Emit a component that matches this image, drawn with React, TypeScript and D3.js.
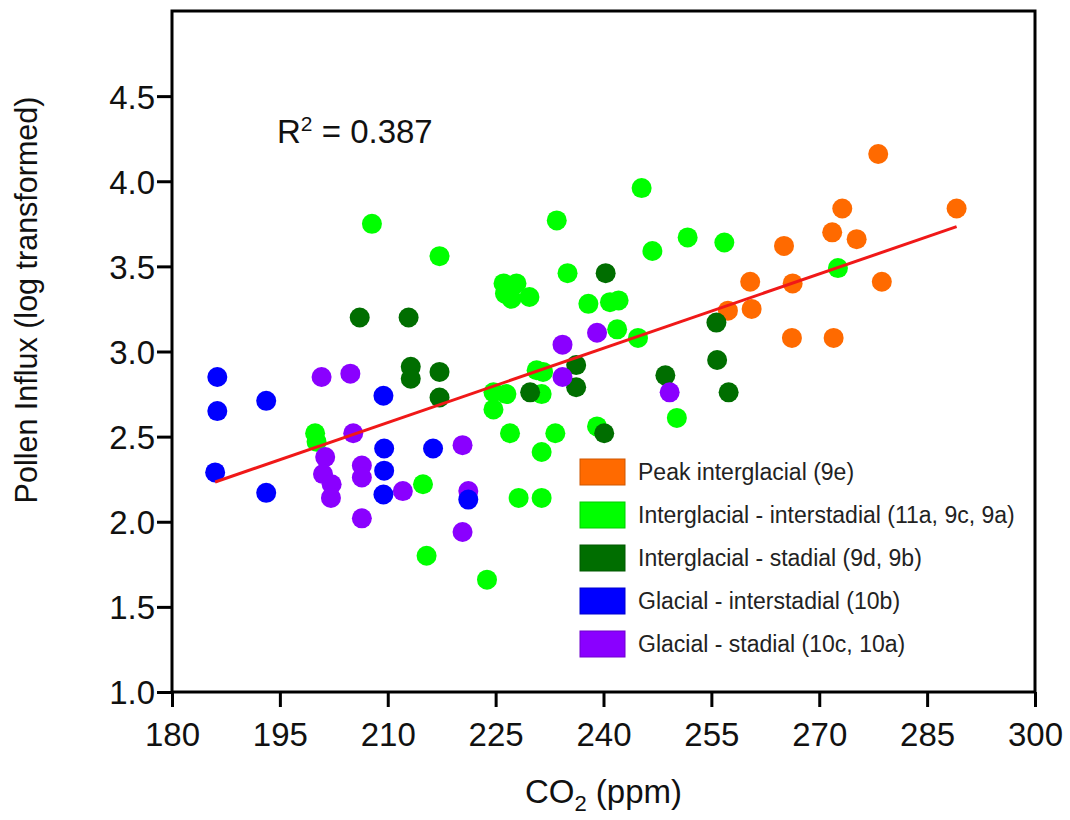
import React, { useEffect, useRef } from 'react';
import * as d3 from 'd3';

// Tick values
const xTicks = [180, 195, 210, 225, 240, 255, 270, 285, 300];
const yTicks = [1.0, 1.5, 2.0, 2.5, 3.0, 3.5, 4.0, 4.5];

// Series: [CO2 (ppm), Pollen influx (log transformed)]
const peakInterglacial: [number, number][] = [
  [278.2, 4.16], [289.1, 3.84], [273.2, 3.84], [271.8, 3.70], [275.2, 3.66],
  [265.1, 3.62], [260.4, 3.41], [266.3, 3.40], [278.7, 3.41], [257.3, 3.24],
  [260.6, 3.25], [266.2, 3.08], [272.0, 3.08],
];

const interglacialInterstadial: [number, number][] = [
  [245.3, 3.96], [233.5, 3.77], [246.8, 3.59], [217.2, 3.56], [207.8, 3.75],
  [226.1, 3.40], [227.9, 3.40], [226.3, 3.34], [227.2, 3.31], [229.7, 3.32],
  [235.0, 3.46], [237.9, 3.28], [240.9, 3.29], [242.1, 3.30], [241.9, 3.13],
  [244.8, 3.08], [230.7, 2.89], [231.6, 2.88], [224.7, 2.76], [226.5, 2.75],
  [224.7, 2.66], [231.4, 2.75], [227.0, 2.52], [233.3, 2.52], [231.4, 2.41],
  [239.1, 2.56], [214.9, 2.22], [228.2, 2.14], [231.4, 2.14], [215.4, 1.80],
  [223.8, 1.66], [199.9, 2.52], [200.1, 2.47], [251.7, 3.67], [256.8, 3.64],
  [272.6, 3.49], [250.2, 2.61],
];

const interglacialStadial: [number, number][] = [
  [206.1, 3.20], [212.9, 3.20], [213.2, 2.91], [213.2, 2.84], [217.2, 2.88],
  [217.2, 2.73], [240.3, 3.46], [229.8, 2.76], [236.2, 2.92], [236.2, 2.79],
  [255.7, 3.17], [255.8, 2.95], [248.6, 2.86], [257.4, 2.76], [240.1, 2.52],
];

const glacialInterstadial: [number, number][] = [
  [186.3, 2.85], [186.3, 2.65], [193.1, 2.71], [186.0, 2.29], [193.1, 2.17],
  [209.4, 2.74], [209.5, 2.43], [209.5, 2.30], [209.4, 2.16], [216.3, 2.43],
  [221.2, 2.13],
];

const glacialStadial: [number, number][] = [
  [200.8, 2.85], [204.8, 2.87], [205.2, 2.52], [201.3, 2.38], [201.0, 2.28],
  [202.2, 2.22], [202.1, 2.14], [206.4, 2.33], [206.4, 2.26], [206.4, 2.02],
  [212.1, 2.18], [220.4, 2.45], [221.2, 2.18], [220.4, 1.94], [234.3, 3.04],
  [239.1, 3.11], [234.3, 2.85], [249.2, 2.76],
];

const seriesNames = [
  'Peak interglacial (9e)',
  'Interglacial - interstadial (11a, 9c, 9a)',
  'Interglacial - stadial (9d, 9b)',
  'Glacial - interstadial (10b)',
  'Glacial - stadial (10c, 10a)',
];
const seriesColors = ['#FF6A00', '#00FF00', '#006E00', '#0000FF', '#8A00FF'];
const seriesData = [
  peakInterglacial,
  interglacialInterstadial,
  interglacialStadial,
  glacialInterstadial,
  glacialStadial,
];
// draw order (later on top)
const drawOrder = [0, 1, 2, 4, 3];

// Linear fit
const fitSlope = 0.01455;
const fitIntercept = -0.473;
const rSquared = '0.387';

const FONT = '"Liberation Sans", Arial, Helvetica, sans-serif';

export default function App() {
  const ref = useRef<SVGSVGElement | null>(null);

  useEffect(() => {
    const svg = d3.select(ref.current);
    svg.selectAll('*').remove();

    const left = 172, right = 1035, top = 11, bottom = 692;
    const x = d3.scaleLinear().domain([180, 300]).range([left, right]);
    const y = d3.scaleLinear().domain([1, 5]).range([bottom, top]);

    svg.append('rect').attr('width', 1070).attr('height', 820).attr('fill', '#fff');

    // Axes
    const gx = svg.append('g').attr('transform', `translate(0,${bottom})`)
      .call(d3.axisBottom(x).tickValues(xTicks).tickSize(15).tickSizeOuter(0).tickFormat(d3.format('d')));
    gx.select('.domain').remove();
    gx.selectAll('line').attr('stroke', '#000').attr('stroke-width', 3);
    gx.selectAll('text').attr('y', 54).attr('dy', null)
      .attr('font-size', 33).attr('font-family', FONT).attr('fill', '#111');

    const gy = svg.append('g').attr('transform', `translate(${left},0)`)
      .call(d3.axisLeft(y).tickValues(yTicks).tickSize(15).tickSizeOuter(0).tickFormat(d3.format('.1f')));
    gy.select('.domain').remove();
    gy.selectAll('line').attr('stroke', '#000').attr('stroke-width', 3);
    gy.selectAll('text').attr('x', -17).attr('dy', '0.36em')
      .attr('font-size', 33).attr('font-family', FONT).attr('fill', '#111');

    // Frame
    svg.append('rect')
      .attr('x', left).attr('y', top)
      .attr('width', right - left).attr('height', bottom - top)
      .attr('fill', 'none').attr('stroke', '#000').attr('stroke-width', 3);

    // Points
    drawOrder.forEach((i) => {
      svg.append('g').selectAll('circle')
        .data(seriesData[i])
        .enter().append('circle')
        .attr('cx', (d) => x(d[0]))
        .attr('cy', (d) => y(d[1]))
        .attr('r', 10)
        .attr('fill', seriesColors[i]);
    });

    // Regression line across data extent
    const allX = seriesData.flat().map((d) => d[0]);
    const [xMin, xMax] = d3.extent(allX) as [number, number];
    const line = d3.line<number>().x((d) => x(d)).y((d) => y(fitIntercept + fitSlope * d));
    svg.append('path')
      .attr('d', line([xMin, xMax]))
      .attr('stroke', '#F01818').attr('stroke-width', 3).attr('fill', 'none');

    // R^2 label
    const r2 = svg.append('text').attr('x', 277).attr('y', 143)
      .attr('font-size', 33).attr('font-family', FONT).attr('fill', '#111');
    r2.append('tspan').text('R');
    r2.append('tspan').attr('font-size', 21).attr('dy', -12).text('2');
    r2.append('tspan').attr('dy', 12).text(` = ${rSquared}`);

    // Legend
    const lg = svg.append('g');
    seriesNames.forEach((name, i) => {
      const cy = 472 + i * 43;
      lg.append('rect').attr('x', 580).attr('y', cy - 13).attr('width', 45).attr('height', 26)
        .attr('fill', seriesColors[i])
        .attr('stroke', d3.color(seriesColors[i])!.darker(0.6).toString()).attr('stroke-width', 1);
      lg.append('text').attr('x', 638).attr('y', cy).attr('dy', '0.36em')
        .attr('font-size', 23).attr('font-family', FONT).attr('fill', '#222').text(name);
    });

    // Axis titles
    const xt = svg.append('text').attr('x', (left + right) / 2).attr('y', 803)
      .attr('text-anchor', 'middle').attr('font-size', 33).attr('font-family', FONT).attr('fill', '#111');
    xt.append('tspan').text('CO');
    xt.append('tspan').attr('font-size', 22).attr('dy', 8).text('2');
    xt.append('tspan').attr('dy', -8).text(' (ppm)');

    svg.append('text')
      .attr('transform', 'translate(37,300) rotate(-90)')
      .attr('text-anchor', 'middle').attr('font-size', 30.5).attr('font-family', FONT).attr('fill', '#111')
      .text('Pollen Influx (log transformed)');
  }, []);

  return (
    <svg
      ref={ref}
      width={1070}
      height={820}
      style={{ position: 'absolute', left: 0, top: 0 }}
    />
  );
}
